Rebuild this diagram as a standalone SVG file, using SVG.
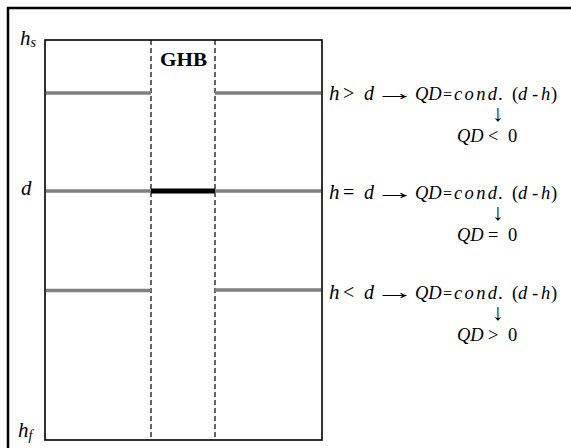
<svg xmlns="http://www.w3.org/2000/svg" width="571" height="448" viewBox="0 0 571 448">
  <style>
    .frame { fill: none; stroke: #000; stroke-width: 2.5; }
    .box { fill: none; stroke: #000; stroke-width: 1.6; }
    .level { stroke: #808080; stroke-width: 3.5; }
    .cell { stroke: #000; stroke-width: 5; }
    .dash { stroke: #000; stroke-width: 1.2; stroke-dasharray: 5 3; }
    .t { font-family: "Liberation Serif", "DejaVu Serif", serif; fill: #000; }
    .i { font-style: italic; }
    .big { font-size: 21px; }
    .med { font-size: 18.5px; }
    .eq { font-size: 16px; }
    .sub { font-size: 14px; font-style: italic; }
    .b { font-weight: bold; font-size: 19px; }
    .rel { font-size: 20px; }
    .dd { font-size: 20px; font-style: italic; }
    .arr { font-family: "Liberation Serif", "DejaVu Serif", serif; fill: #000; }
  </style>
  <rect width="571" height="448" fill="#fff"/>
  <!-- outer frame -->
  <path class="frame" d="M8,448 V8 H571"/>

  <g id="aquifer">
    <rect class="box" x="45" y="40" width="277" height="400"/>
  </g>

  <g id="ghb-cell">
    <line class="dash" x1="151" y1="40" x2="151" y2="440"/>
    <line class="dash" x1="215" y1="40" x2="215" y2="440"/>
    <text class="t b" x="160" y="66" textLength="47" lengthAdjust="spacingAndGlyphs">GHB</text>
  </g>

  <g id="levels">
    <line class="level" x1="46" y1="93" x2="151" y2="93"/>
    <line class="level" x1="215" y1="93" x2="321" y2="93"/>
    <line class="level" x1="46" y1="191" x2="321" y2="191"/>
    <line class="cell" x1="151" y1="191" x2="215" y2="191"/>
    <line class="level" x1="46" y1="290.5" x2="151" y2="290.5"/>
    <line class="level" x1="215" y1="290" x2="321" y2="290"/>
  </g>

  <g id="axis-labels">
    <text class="t i big" x="20" y="45">h<tspan class="sub" dy="2">s</tspan></text>
    <text class="t i big" x="21" y="195">d</text>
    <text class="t i big" x="18" y="437">h<tspan class="sub" dy="3">f</tspan></text>
  </g>

  <g id="case-above">
    <text class="t big" y="100"><tspan class="i" x="329">h</tspan><tspan class="rel" x="343">&gt;</tspan><tspan class="dd" x="364">d</tspan></text>
    <text class="arr" transform="translate(374.5,100) scale(1.86,1)" font-size="22">→</text>
    <text class="t med" y="100"><tspan class="i" x="415">QD</tspan><tspan class="eq" x="443">=</tspan></text>
    <text class="t med i" x="454" y="100" textLength="43" lengthAdjust="spacing">cond</text>
    <text class="t med" y="100"><tspan x="498">.</tspan><tspan x="512">(</tspan><tspan class="i" x="518">d</tspan><tspan x="532">-</tspan><tspan class="i" x="541">h</tspan><tspan x="551">)</tspan></text>
    <text class="arr" x="498" y="121" font-size="18" text-anchor="middle" transform="translate(498,121) scale(1.3) translate(-498,-121)">↓</text>
    <text class="t med" y="142"><tspan class="i" x="457">QD</tspan><tspan x="488">&lt;</tspan><tspan x="508">0</tspan></text>
  </g>

  <g id="case-equal">
    <text class="t big" y="199"><tspan class="i" x="329">h</tspan><tspan class="rel" x="343">=</tspan><tspan class="dd" x="364">d</tspan></text>
    <text class="arr" transform="translate(374.5,199) scale(1.86,1)" font-size="22">→</text>
    <text class="t med" y="199"><tspan class="i" x="415">QD</tspan><tspan class="eq" x="443">=</tspan></text>
    <text class="t med i" x="454" y="199" textLength="43" lengthAdjust="spacing">cond</text>
    <text class="t med" y="199"><tspan x="498">.</tspan><tspan x="512">(</tspan><tspan class="i" x="518">d</tspan><tspan x="532">-</tspan><tspan class="i" x="541">h</tspan><tspan x="551">)</tspan></text>
    <text class="arr" x="498" y="220" font-size="18" text-anchor="middle" transform="translate(498,220) scale(1.3) translate(-498,-220)">↓</text>
    <text class="t med" y="241"><tspan class="i" x="457">QD</tspan><tspan x="488">=</tspan><tspan x="508">0</tspan></text>
  </g>

  <g id="case-below">
    <text class="t big" y="299"><tspan class="i" x="329">h</tspan><tspan class="rel" x="343">&lt;</tspan><tspan class="dd" x="364">d</tspan></text>
    <text class="arr" transform="translate(374.5,299) scale(1.86,1)" font-size="22">→</text>
    <text class="t med" y="299"><tspan class="i" x="415">QD</tspan><tspan class="eq" x="443">=</tspan></text>
    <text class="t med i" x="454" y="299" textLength="43" lengthAdjust="spacing">cond</text>
    <text class="t med" y="299"><tspan x="498">.</tspan><tspan x="512">(</tspan><tspan class="i" x="518">d</tspan><tspan x="532">-</tspan><tspan class="i" x="541">h</tspan><tspan x="551">)</tspan></text>
    <text class="arr" x="498" y="320" font-size="18" text-anchor="middle" transform="translate(498,320) scale(1.3) translate(-498,-320)">↓</text>
    <text class="t med" y="341"><tspan class="i" x="457">QD</tspan><tspan x="488">&gt;</tspan><tspan x="508">0</tspan></text>
  </g>
</svg>
